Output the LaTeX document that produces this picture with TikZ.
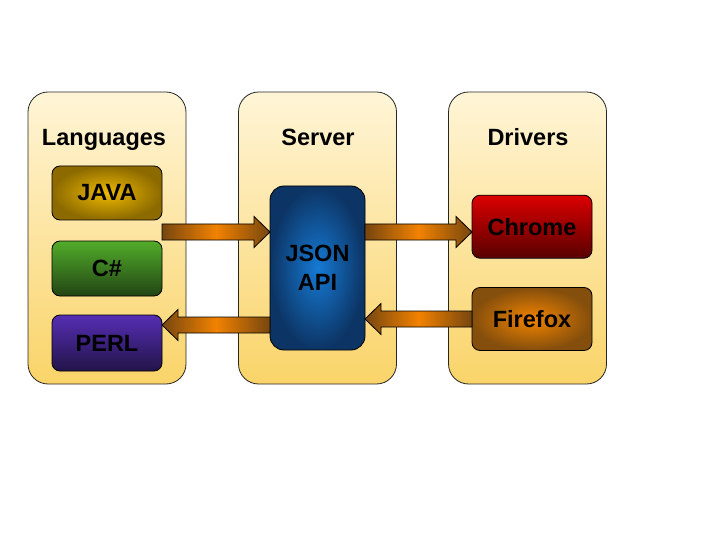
\documentclass[tikz,border=0pt]{standalone}
\usepackage{fontspec}
\setmainfont{Liberation Sans}
\usetikzlibrary{calc}
\definecolor{panTop}{RGB}{255,245,215}
\definecolor{panBot}{RGB}{250,212,105}
\definecolor{javaIn}{RGB}{238,185,0}
\definecolor{javaOut}{RGB}{140,106,0}
\definecolor{csTop}{RGB}{82,172,42}
\definecolor{csBot}{RGB}{34,68,20}
\definecolor{perlTop}{RGB}{86,46,180}
\definecolor{perlBot}{RGB}{34,20,72}
\definecolor{jsonIn}{RGB}{22,122,212}
\definecolor{jsonOut}{RGB}{12,52,100}
\definecolor{chrTop}{RGB}{220,0,0}
\definecolor{chrBot}{RGB}{88,0,0}
\definecolor{ffIn}{RGB}{242,132,0}
\definecolor{ffOut}{RGB}{132,78,12}
\definecolor{arrEnd}{RGB}{118,70,16}
\definecolor{arrMid}{RGB}{242,130,0}
\tikzset{
  panel/.style={draw=black!85, line width=0.8pt, rounded corners=20pt,
    top color=panTop, bottom color=panBot,
    minimum width=158pt, minimum height=292pt, inner sep=0pt, outer sep=0pt},
  title/.style={font=\bfseries\fontsize{23.5}{28}\selectfont, anchor=base, inner sep=0pt},
  item/.style={draw=black, line width=0.8pt, rounded corners=8pt,
    inner sep=0pt, outer sep=0pt, text=black,
    font=\bfseries\fontsize{23.5}{28.5}\selectfont},
  vgrad/.style 2 args={top color=#1, bottom color=#2},
  rgrad/.style 2 args={inner color=#1, outer color=#2},
  flow/.style={draw=black, line width=0.8pt, left color=arrEnd,
    right color=arrEnd, middle color=arrMid},
}
% block arrow from tail #1 to tip #2, direction #3 (1 = right, -1 = left)
\newcommand\blockarrow[3]{%
  \path[flow] let \p1=(#1), \p2=(#2) in
    (\x1,{\y1+8pt}) -- ({\x2-(#3)*16pt},{\y1+8pt}) -- ({\x2-(#3)*16pt},{\y1+15.5pt})
    -- (\x2,\y1) -- ({\x2-(#3)*16pt},{\y1-15.5pt}) -- ({\x2-(#3)*16pt},{\y1-8pt})
    -- (\x1,{\y1-8pt}) -- cycle;}
\begin{document}
\begin{tikzpicture}[x=1pt,y=-1pt]
\useasboundingbox (0,0) rectangle (720,540);
% panels
\node[panel] (lang) at (107,238) {};
\node[panel] (serv) at (317.5,238) {};
\node[panel] (drv) at (527.5,238) {};
\node[title] (langT) at (104,146) {Languages};
\node[title] (servT) at (318,146) {Server};
\node[title] (drvT) at (528,146) {Drivers};
% items
\node[item, rgrad={javaIn}{javaOut}, minimum width=110pt, minimum height=54pt] (java) at (107,193) {JAVA};
\node[item, vgrad={csTop}{csBot}, minimum width=110pt, minimum height=55pt] (cs) at (107,268.5) {C\#};
\node[item, vgrad={perlTop}{perlBot}, minimum width=110pt, minimum height=56pt] (perl) at (107,343) {PERL};
\node[item, rgrad={jsonIn}{jsonOut}, rounded corners=14pt, minimum width=95pt, minimum height=164pt, align=center] (json) at (317.5,268) {JSON\\API};
\node[item, vgrad={chrTop}{chrBot}, minimum width=120pt, minimum height=63pt] (chrome) at (532,226.7) {Chrome};
\node[item, rgrad={ffIn}{ffOut}, minimum width=120pt, minimum height=63pt] (firefox) at (532,319) {Firefox};
% arrow levels
\coordinate (yA) at (0,232);
\coordinate (yB) at (0,325);
\coordinate (yC) at (0,319);
\coordinate (a1s) at (java.east |- yA);
\coordinate (a1e) at (json.west |- yA);
\coordinate (a2s) at (json.west |- yB);
\coordinate (a2e) at (perl.east |- yB);
\coordinate (a3s) at (json.east |- yA);
\coordinate (a3e) at (chrome.west |- yA);
\coordinate (a4s) at (firefox.west |- yC);
\coordinate (a4e) at (json.east |- yC);
\blockarrow{a1s}{a1e}{1}
\blockarrow{a2s}{a2e}{-1}
\blockarrow{a3s}{a3e}{1}
\blockarrow{a4s}{a4e}{-1}
\end{tikzpicture}
\end{document}
